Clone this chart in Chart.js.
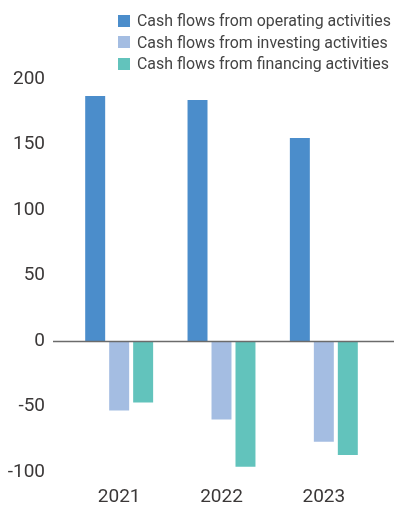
<!DOCTYPE html>
<html lang="en">
<head>
    <meta charset="UTF-8">
    <title>Cash flows</title>
    <style>
        body { margin: 0; background: #fff; }
        #wrap { position: relative; width: 394px; height: 507px; }
        #legend {
            position: absolute; left: 118px; top: 10px;
            font-family: Roboto, sans-serif; font-size: 15.9px; line-height: 21.5px; color: #444;
        }
        #legend div { display: flex; align-items: center; white-space: nowrap; }
        #legend span { display: inline-block; width: 12px; height: 12px; margin-right: 7px; }
    </style>
</head>
<body>
    <div id="wrap">
        <canvas id="cashChart"></canvas>
        <div id="legend"></div>
    </div>

    <script src="https://cdn.jsdelivr.net/npm/chart.js"></script>
    <script>
        // 数据
        const years = ['2021', '2022', '2023'];
        const operating = [187, 184, 155];
        const investing = [-53, -60, -77];
        const financing = [-47, -96, -87];
        const seriesNames = [
            'Cash flows from operating activities',
            'Cash flows from investing activities',
            'Cash flows from financing activities'
        ];
        const seriesColors = ['#4b8dcb', '#a4bde2', '#62c3bc'];

        const textColor = '#3b3838';
        const tickFont = { family: 'Roboto, sans-serif', size: 19 };

        // 图例
        const legendEl = document.getElementById('legend');
        seriesNames.forEach((name, i) => {
            const row = document.createElement('div');
            row.innerHTML = `<span style="background:${seriesColors[i]}"></span>${name}`;
            legendEl.appendChild(row);
        });

        // 零线，比绘图区更宽
        const zeroLine = {
            id: 'zeroLine',
            afterDatasetsDraw(chart) {
                const y = Math.round(chart.scales.y.getPixelForValue(0)) + 0.5;
                const ctx = chart.ctx;
                ctx.save();
                ctx.strokeStyle = '#6b6b6b';
                ctx.lineWidth = 1.5;
                ctx.beginPath();
                ctx.moveTo(53, y);
                ctx.lineTo(chart.width, y);
                ctx.stroke();
                ctx.restore();
            }
        };

        const allSeries = [operating, investing, financing];

        new Chart(document.getElementById('cashChart'), {
            type: 'bar',
            data: {
                labels: years,
                datasets: allSeries.map((data, i) => ({
                    label: seriesNames[i],
                    data: data,
                    backgroundColor: seriesColors[i],
                    categoryPercentage: 0.703,
                    barPercentage: 0.833
                }))
            },
            options: {
                responsive: true,
                maintainAspectRatio: false,
                animation: false,
                layout: { padding: { top: 79, right: 19, left: 0, bottom: 0 } },
                plugins: {
                    legend: { display: false },
                    tooltip: { enabled: false }
                },
                scales: {
                    x: {
                        grid: { display: false, drawTicks: false },
                        border: { display: false },
                        ticks: { color: textColor, font: tickFont, padding: 14 },
                        afterFit(scale) { scale.height = 35; }
                    },
                    y: {
                        min: -100,
                        max: 200,
                        grid: { display: false, drawTicks: false },
                        border: { display: false },
                        ticks: { stepSize: 50, color: textColor, font: tickFont, padding: 23 },
                        afterFit(scale) { scale.width = 68; }
                    }
                }
            },
            plugins: [zeroLine]
        });
    </script>
</body>
</html>
